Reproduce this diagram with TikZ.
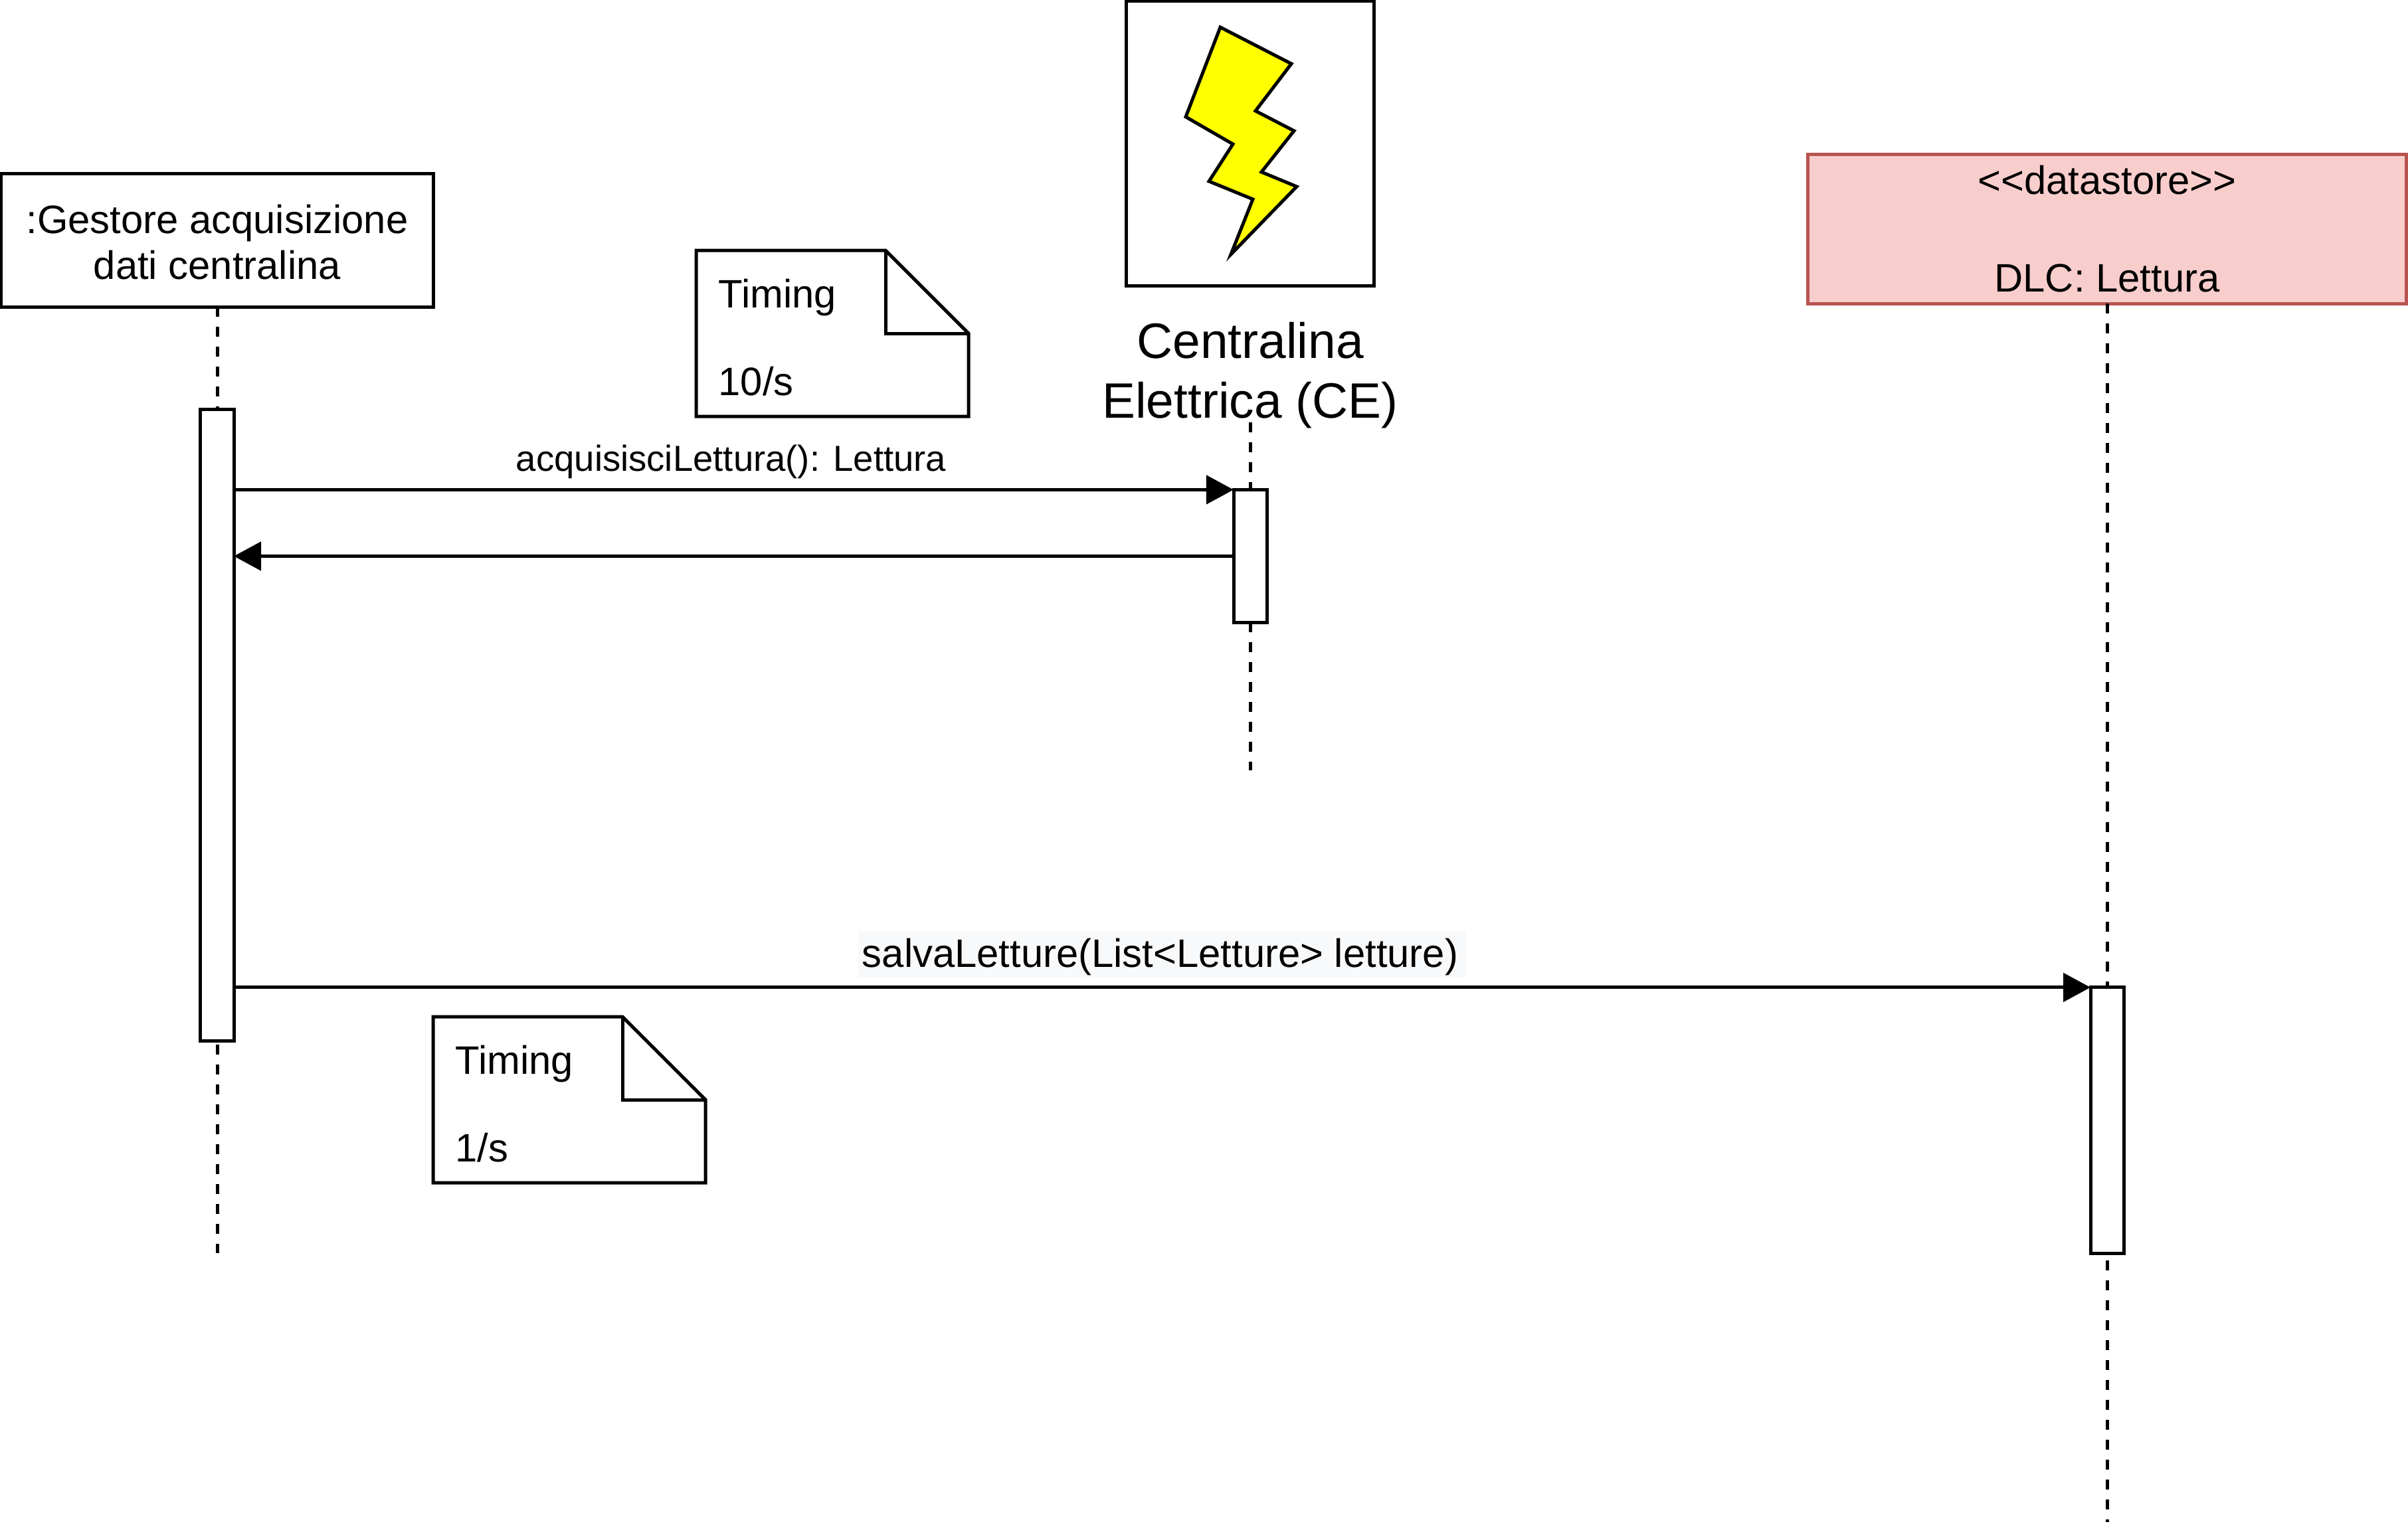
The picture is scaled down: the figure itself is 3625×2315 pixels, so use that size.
\documentclass[tikz,border=0pt]{standalone}
\usepackage{fontspec}
\setmainfont{Liberation Sans}
\usepackage{xcolor}
\usetikzlibrary{arrows.meta,positioning}
\definecolor{storefill}{HTML}{F8CECC}
\definecolor{storeline}{HTML}{B85450}
\definecolor{labelbg}{HTML}{F8F9FA}
\definecolor{bolt}{HTML}{FFFF00}
\tikzset{
  head/.style={draw=black,fill=white,line width=1.42pt,align=center,inner sep=0pt,outer sep=0pt,font=\fontsize{17}{19.6}\selectfont},
  store/.style={draw=storeline,fill=storefill,line width=1.42pt,align=center,inner sep=0pt,outer sep=0pt,minimum width=9cm,minimum height=2.24cm,font=\fontsize{17}{20.9}\selectfont},
  iconbox/.style={draw=black,fill=white,line width=1.42pt,minimum width=3.72cm,minimum height=4.29cm,inner sep=0pt},
  actbox/.style={draw=black,fill=white,line width=1.42pt,minimum width=0.5cm,inner sep=0pt,outer sep=0pt},
  lifeline/.style={line width=1.42pt,dash pattern=on 0.15cm off 0.15cm},
  msg/.style={-{Triangle[length=0.41cm,width=0.43cm]},line width=1.42pt},
  msglbl/.style={inner sep=0pt,font=\fontsize{15.5}{18}\selectfont},
  notelbl/.style={anchor=west,align=left,inner sep=0pt,font=\fontsize{17}{18.7}\selectfont},
}
\newcommand{\timingnote}[4]{%
  \draw[line width=1.42pt,line join=miter] (#1,#2) -- ++(285,0) -- ++(125,125) -- ++(0,125) -- ++(-410,0) -- cycle;
  \draw[line width=1.42pt] (#1+285,#2) -- ++(0,125) -- ++(125,0);
  \node[notelbl] (#3) at (#1+33,#2+131) {Timing\\[0pt]\\[0pt]#4};
}
\begin{document}
\begin{tikzpicture}[x=0.01cm,y=-0.01cm]
  \useasboundingbox (0,0) rectangle (3625,2315);
  % lifeline heads
  \node[head,minimum width=6.5cm,minimum height=2cm] (gestore) at (327,362) {\rule{0pt}{14pt}:Gestore acquisizione\\dati centralina};
  \node[store] (store) at (3172,345) {{<}{<}datastore{>}{>}\\[0pt]\\[0pt]DLC: Lettura};
  \node[iconbox] (icon) at (1882,216) {};
  \node[inner xsep=0pt,inner ysep=-0.09cm,align=center,font=\fontsize{21.3}{25.5}\selectfont] (celbl) at (1882,565) {Centralina\\Elettrica (CE)};
  \draw[fill=bolt,line width=1.42pt,miter limit=20] (1837,41) -- (1944,96) -- (1890,167) -- (1948,197) -- (1899,259) -- (1952,281) -- (1853,383) -- (1886,300) -- (1820,273) -- (1856,217) -- (1785,176) -- cycle;
  % lifelines
  \coordinate (gestoreend) at (327,1887);
  \coordinate (ceend) at (1882,1160);
  \coordinate (storeend) at (3172,2292);
  \draw[lifeline] (gestore.south) -- (gestoreend);
  \draw[lifeline] (celbl.south) -- (ceend);
  \draw[lifeline] (store.south) -- (storeend);
  % activations
  \node[actbox,minimum height=9.5cm] (actgestore) at (327,1092) {};
  \node[actbox,minimum height=2cm] (actce) at (1882,837.5) {};
  \node[actbox,minimum height=4cm] (actstore) at (3172,1687) {};
  % messages
  \draw[msg] (actgestore.east |- actce.north) -- node[msglbl,above=0.14cm,xshift=-0.04cm] (lblacq) {acquisisciLettura(): Lettura} (actce.north west);
  \draw[msg] (actce.west) -- (actgestore.east |- actce.west);
  \draw[msg] (actgestore.east |- actstore.north) -- node[fill=labelbg,minimum width=9.14cm,minimum height=0.7cm,text height=0.48cm,text depth=0.1cm,above=0.12cm,inner sep=0pt,font=\fontsize{17}{20}\selectfont] (lblsalva) {salvaLetture(List<Letture> letture)\kern0.06cm} (actstore.north west);
  % notes
  \timingnote{1048}{377}{notea}{10/s}
  \timingnote{652}{1531}{noteb}{1/s}
\end{tikzpicture}
\end{document}
